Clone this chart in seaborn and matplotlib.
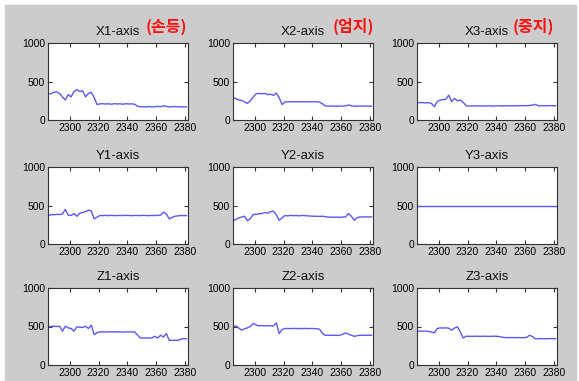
import numpy as np
import pandas as pd
import seaborn as sns
import matplotlib.pyplot as plt
from matplotlib.patches import Rectangle

# sample index (every 2nd sample)
frames = list(range(2285, 2383, 2))

x1 = [345, 340, 360, 365, 345, 300, 260, 330, 300, 370, 395, 370, 380, 300, 345, 360, 290, 200,
      210, 212, 208, 210, 205, 212, 208, 210, 205, 212, 208, 210, 205, 180, 170, 172, 168, 175,
      170, 172, 178, 172, 185, 178, 170, 172, 175, 170, 172, 168, 170]
x2 = [285, 280, 260, 255, 235, 215, 250, 300, 340, 345, 340, 345, 330, 335, 320, 350, 290, 200,
      235, 237, 237, 236, 237, 237, 236, 237, 237, 236, 237, 237, 232, 210, 182, 180, 182, 180,
      178, 182, 180, 183, 195, 185, 178, 180, 182, 180, 181, 180, 180]
x3 = [228, 225, 226, 222, 225, 215, 172, 240, 258, 265, 270, 323, 240, 280, 250, 258, 230, 185,
      181, 183, 182, 184, 181, 183, 182, 185, 181, 182, 185, 182, 183, 186, 184, 185, 183, 186,
      185, 187, 185, 190, 193, 203, 185, 184, 186, 185, 187, 185, 186]
y1 = [361, 383, 380, 385, 383, 390, 450, 375, 370, 395, 360, 400, 410, 420, 440, 430, 326, 350,
      370, 368, 371, 369, 372, 368, 370, 371, 369, 372, 370, 368, 371, 370, 369, 372, 370, 368,
      371, 370, 372, 375, 414, 390, 326, 345, 361, 365, 370, 368, 370]
y2 = [295, 320, 340, 350, 361, 300, 330, 383, 385, 392, 395, 410, 400, 420, 427, 380, 308, 340,
      370, 365, 372, 368, 370, 366, 371, 368, 365, 362, 361, 360, 358, 361, 355, 348, 350, 347,
      349, 346, 350, 352, 396, 360, 308, 340, 352, 350, 353, 351, 352]
y3 = [500] * 49
z1 = [496, 500, 504, 500, 504, 439, 504, 482, 475, 439, 496, 490, 487, 504, 474, 518, 395, 420,
      430, 430, 428, 431, 430, 429, 431, 430, 428, 430, 431, 429, 430, 390, 351, 350, 352, 350,
      351, 373, 350, 386, 364, 408, 320, 320, 322, 320, 335, 342, 342]
z2 = [496, 509, 480, 452, 470, 482, 500, 540, 520, 509, 512, 508, 510, 509, 506, 548, 408, 460,
      474, 474, 473, 475, 474, 473, 474, 475, 473, 474, 474, 470, 465, 410, 386, 385, 387, 386,
      384, 386, 400, 417, 400, 386, 373, 380, 386, 385, 387, 386, 386]
z3 = [439, 440, 438, 440, 436, 428, 417, 474, 482, 480, 482, 478, 452, 480, 496, 430, 351, 373,
      373, 372, 374, 373, 372, 374, 373, 372, 373, 374, 372, 365, 358, 356, 355, 357, 355, 356,
      355, 354, 360, 386, 370, 338, 342, 343, 341, 342, 343, 342, 342]

series = [x1, x2, x3, y1, y2, y3, z1, z2, z3]
titles = ['X1-axis', 'X2-axis', 'X3-axis', 'Y1-axis', 'Y2-axis', 'Y3-axis',
          'Z1-axis', 'Z2-axis', 'Z3-axis']
notes = ['(손등)', '(엄지)', '(중지)']

W, H = 579, 381
fig = plt.figure(figsize=(W / 100, H / 100), dpi=100, facecolor='white')
fig.patches.append(Rectangle((5 / W, 1 - 380 / H), 571 / W, 375 / H,
                             transform=fig.transFigure, color='#cccccc', zorder=-5))

lefts = [48, 233, 417]
tops = [43, 167, 288]
aw, ah = 140, 77
note_x = [0.70, 0.71, 0.68]

for i, (vals, title) in enumerate(zip(series, titles)):
    r, c = divmod(i, 3)
    ax = fig.add_axes([lefts[c] / W, 1 - (tops[r] + ah) / H, aw / W, ah / H])
    df = pd.DataFrame({'frame': frames, 'value': vals})
    sns.lineplot(data=df, x='frame', y='value', ax=ax, color='#5858ff', linewidth=1)
    ax.set_xlim(2285, 2382)
    ax.set_ylim(0, 1000)
    ax.set_xticks([2300, 2320, 2340, 2360, 2380])
    ax.set_yticks([0, 500, 1000])
    ax.set_xlabel('')
    ax.set_ylabel('')
    ax.set_facecolor('white')
    ax.tick_params(direction='in', length=3, width=0.8, top=True, right=True,
                   labelsize=7.5, pad=2, color='#333333')
    for lab in ax.get_xticklabels() + ax.get_yticklabels():
        lab.set_family(['Liberation Sans Narrow', 'Liberation Sans', 'DejaVu Sans'])
    for s in ax.spines.values():
        s.set_color('#333333')
        s.set_linewidth(0.8)
    ax.set_title(title, fontsize=9.5, pad=6, color='#111111',
                 family=['Liberation Sans', 'DejaVu Sans'])
    if r == 0:
        ax.text(note_x[c], 1.10, notes[c], transform=ax.transAxes, color='#ff1010',
                fontsize=11.5, fontweight='bold', va='bottom', ha='left',
                family=['Noto Sans CJK KR', 'DejaVu Sans'])

fig.savefig('out.png', dpi=100, facecolor=fig.get_facecolor())
